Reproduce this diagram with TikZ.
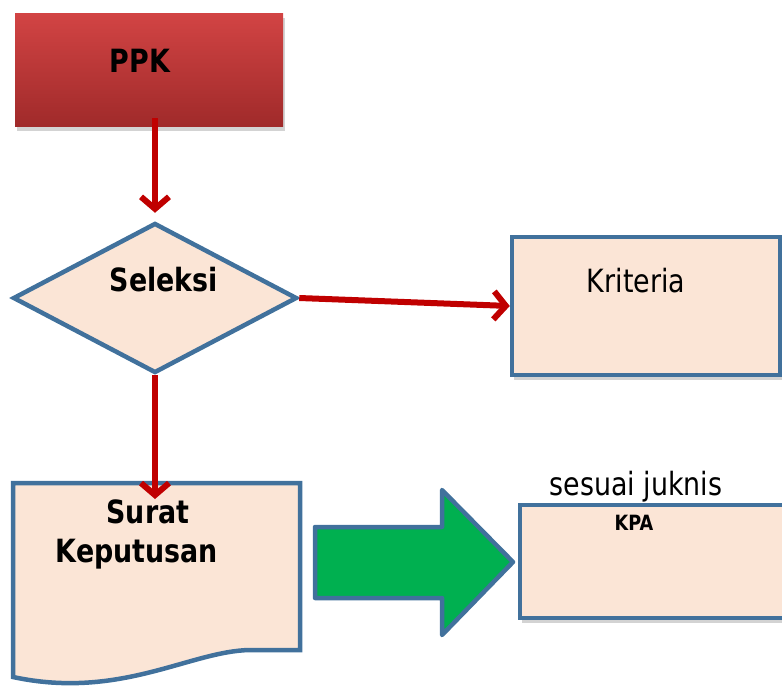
\documentclass[tikz,border=0pt]{standalone}
\usepackage{fontspec}
\setmainfont{DejaVu Sans}[FakeStretch=0.84]
\usetikzlibrary{arrows.meta,shapes.geometric,shadows}
\definecolor{ppkTop}{HTML}{D24444}
\definecolor{ppkBot}{HTML}{A02A2A}
\definecolor{lineRed}{HTML}{C00000}
\definecolor{peach}{HTML}{FBE5D6}
\definecolor{edgeBlue}{HTML}{41719C}
\definecolor{okGreen}{HTML}{00B050}
\tikzset{
  boxshadow/.style={drop shadow={opacity=0.35,shadow xshift=1.5pt,shadow yshift=-5pt}},
  flowbox/.style={draw=edgeBlue, line width=4.5pt, fill=peach, inner sep=0pt},
  flow/.style={draw=lineRed, line width=6pt, -{Straight Barb[length=12pt,width=28pt]}},
  txt/.style={font=\fontsize{32}{38}\selectfont, inner sep=0pt, anchor=base},
  boldtxt/.style={txt, font=\fontsize{32}{38}\selectfont\bfseries},
}
\begin{document}
\begin{tikzpicture}[x=1pt,y=-1pt]
                \useasboundingbox (0,0) rectangle (782,686);

                % boxes
                \node[shape=rectangle, top color=ppkTop, bottom color=ppkBot, minimum width=268pt, minimum height=113pt, boxshadow] (ppk) at (149,69.5) {};
                \node[shape=diamond, flowbox, minimum width=284pt, minimum height=150pt] (sel) at (155,298) {};
                \node[shape=rectangle, flowbox, boxshadow, minimum width=268pt, minimum height=138pt] (krit) at (646,306) {};
                \node[shape=rectangle, flowbox, boxshadow, minimum width=280pt, minimum height=113pt] (kpa) at (660,561.5) {};

                % surat keputusan (document)
                \draw[flowbox] (13,483) -- (300,483) -- (300,650) -- (250,650)
                    .. controls (190,651) and (120,700) .. (13,677) -- cycle;
                \coordinate (doctop) at (155,483);

                % big green arrow
                \draw[draw=edgeBlue, line width=4.5pt, fill=okGreen, line join=round]
                    (315,527) -- (442,527) -- (442,490) -- (513,562) -- (442,635) -- (442,598) -- (315,598) -- cycle;

                % texts
                \node[boldtxt] (ppkt) at (140,72) {PPK};
                \node[boldtxt] (selt) at (164,291) {Seleksi};
                \node[txt] (kritt) at (636,292) {Kriteria};
                \node[boldtxt] (surt) at (148,523) {Surat};
                \node[boldtxt] (kept) at (137,562) {Keputusan};
                \node[txt] (jukt) at (636,495) {sesuai juknis};
                \node[txt, font=\fontsize{21}{25}\selectfont\bfseries] (kpat) at (634,530) {KPA};

                % connectors
                \draw[flow, shorten <=-8pt, shorten >=8pt] (ppk.south -| sel.north) -- (sel.north);
                \draw[flow] (sel.east) -- (krit.west);
                \draw[flow, shorten >=-16pt] (sel.south) -- (doctop);

            \end{tikzpicture}
\end{document}
